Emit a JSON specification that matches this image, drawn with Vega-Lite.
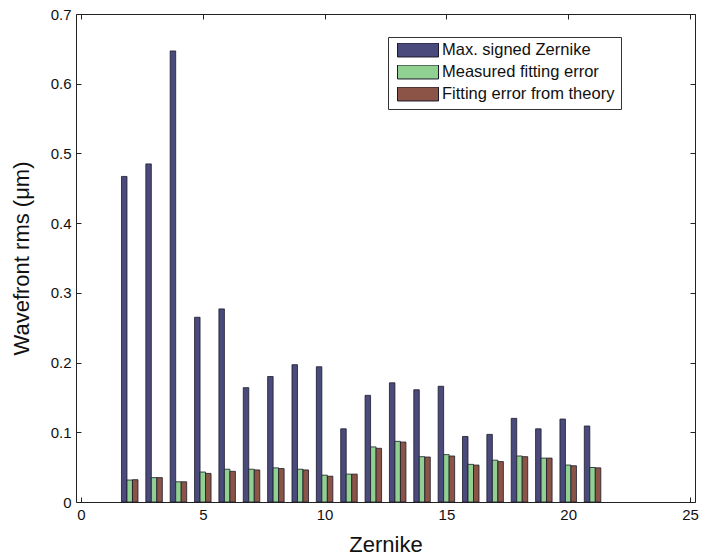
{
  "$schema": "https://vega.github.io/schema/vega-lite/v6.json",
  "width": 619,
  "height": 488,
  "autosize": {"type": "none"},
  "padding": {"left": 76, "top": 14, "right": 12, "bottom": 56},
  "background": "white",
  "config": {
    "font": "Liberation Sans",
    "view": {"stroke": "#222222", "strokeWidth": 1},
    "axis": {
      "domain": false,
      "grid": false,
      "tickColor": "#222222",
      "tickSize": -5,
      "labelFont": "Liberation Sans",
      "labelFontSize": 15,
      "labelColor": "#111111",
      "titleFont": "Liberation Sans",
      "titleFontSize": 22,
      "titleFontWeight": "normal",
      "titleColor": "#111111"
    },
    "legend": {
      "labelFont": "Liberation Sans",
      "labelFontSize": 16.5,
      "labelColor": "#111111",
      "labelLimit": 400
    }
  },
  "data": {
    "values": [
      {"z": 2, "series": "Max. signed Zernike", "value": 0.467},
      {"z": 3, "series": "Max. signed Zernike", "value": 0.485},
      {"z": 4, "series": "Max. signed Zernike", "value": 0.647},
      {"z": 5, "series": "Max. signed Zernike", "value": 0.265},
      {"z": 6, "series": "Max. signed Zernike", "value": 0.277},
      {"z": 7, "series": "Max. signed Zernike", "value": 0.164},
      {"z": 8, "series": "Max. signed Zernike", "value": 0.180},
      {"z": 9, "series": "Max. signed Zernike", "value": 0.197},
      {"z": 10, "series": "Max. signed Zernike", "value": 0.194},
      {"z": 11, "series": "Max. signed Zernike", "value": 0.105},
      {"z": 12, "series": "Max. signed Zernike", "value": 0.153},
      {"z": 13, "series": "Max. signed Zernike", "value": 0.171},
      {"z": 14, "series": "Max. signed Zernike", "value": 0.161},
      {"z": 15, "series": "Max. signed Zernike", "value": 0.166},
      {"z": 16, "series": "Max. signed Zernike", "value": 0.094},
      {"z": 17, "series": "Max. signed Zernike", "value": 0.097},
      {"z": 18, "series": "Max. signed Zernike", "value": 0.120},
      {"z": 19, "series": "Max. signed Zernike", "value": 0.105},
      {"z": 20, "series": "Max. signed Zernike", "value": 0.119},
      {"z": 21, "series": "Max. signed Zernike", "value": 0.109},
      {"z": 2, "series": "Measured fitting error", "value": 0.0315},
      {"z": 3, "series": "Measured fitting error", "value": 0.035},
      {"z": 4, "series": "Measured fitting error", "value": 0.029},
      {"z": 5, "series": "Measured fitting error", "value": 0.043},
      {"z": 6, "series": "Measured fitting error", "value": 0.047},
      {"z": 7, "series": "Measured fitting error", "value": 0.047},
      {"z": 8, "series": "Measured fitting error", "value": 0.049},
      {"z": 9, "series": "Measured fitting error", "value": 0.047},
      {"z": 10, "series": "Measured fitting error", "value": 0.0385},
      {"z": 11, "series": "Measured fitting error", "value": 0.040},
      {"z": 12, "series": "Measured fitting error", "value": 0.079},
      {"z": 13, "series": "Measured fitting error", "value": 0.087},
      {"z": 14, "series": "Measured fitting error", "value": 0.065},
      {"z": 15, "series": "Measured fitting error", "value": 0.068},
      {"z": 16, "series": "Measured fitting error", "value": 0.054},
      {"z": 17, "series": "Measured fitting error", "value": 0.060},
      {"z": 18, "series": "Measured fitting error", "value": 0.066},
      {"z": 19, "series": "Measured fitting error", "value": 0.063},
      {"z": 20, "series": "Measured fitting error", "value": 0.053},
      {"z": 21, "series": "Measured fitting error", "value": 0.0495},
      {"z": 2, "series": "Fitting error from theory", "value": 0.032},
      {"z": 3, "series": "Fitting error from theory", "value": 0.035},
      {"z": 4, "series": "Fitting error from theory", "value": 0.029},
      {"z": 5, "series": "Fitting error from theory", "value": 0.041},
      {"z": 6, "series": "Fitting error from theory", "value": 0.044},
      {"z": 7, "series": "Fitting error from theory", "value": 0.046},
      {"z": 8, "series": "Fitting error from theory", "value": 0.048},
      {"z": 9, "series": "Fitting error from theory", "value": 0.046},
      {"z": 10, "series": "Fitting error from theory", "value": 0.037},
      {"z": 11, "series": "Fitting error from theory", "value": 0.040},
      {"z": 12, "series": "Fitting error from theory", "value": 0.077},
      {"z": 13, "series": "Fitting error from theory", "value": 0.086},
      {"z": 14, "series": "Fitting error from theory", "value": 0.0645},
      {"z": 15, "series": "Fitting error from theory", "value": 0.066},
      {"z": 16, "series": "Fitting error from theory", "value": 0.053},
      {"z": 17, "series": "Fitting error from theory", "value": 0.058},
      {"z": 18, "series": "Fitting error from theory", "value": 0.065},
      {"z": 19, "series": "Fitting error from theory", "value": 0.063},
      {"z": 20, "series": "Fitting error from theory", "value": 0.052},
      {"z": 21, "series": "Fitting error from theory", "value": 0.049}
    ]
  },
  "resolve": {"axis": {"x": "independent", "y": "independent"}},
  "layer": [
    {
      "transform": [{"filter": "datum.series === 'Max. signed Zernike'"}],
      "mark": {"type": "bar", "width": 5.5, "xOffset": -5.5, "stroke": "#1a1a2a", "strokeWidth": 0.8},
      "encoding": {
        "x": {"field": "z", "type": "quantitative", "scale": {"domain": [0, 25], "nice": false},
          "axis": {"orient": "bottom", "values": [0, 5, 10, 15, 20, 25], "title": "Zernike", "labelPadding": 10, "titlePadding": 12}},
        "y": {"field": "value", "type": "quantitative", "scale": {"domain": [0, 0.7], "nice": false},
          "axis": {"orient": "left", "values": [0, 0.1, 0.2, 0.3, 0.4, 0.5, 0.6, 0.7], "format": ".1~f", "title": "Wavefront rms (μm)", "labelPadding": 10, "titlePadding": 17}},
        "color": {"field": "series", "type": "nominal",
          "scale": {"domain": ["Max. signed Zernike", "Measured fitting error", "Fitting error from theory"], "range": ["#4b4a7c", "#90d090", "#8c5446"]},
          "legend": {"title": null, "orient": "none", "legendX": 312, "legendY": 23,
            "symbolType": "M-1,-0.34L1,-0.34L1,0.34L-1,0.34Z", "symbolSize": 1681,
            "symbolStrokeColor": "#222222", "symbolStrokeWidth": 1, "symbolOffset": 3,
            "clipHeight": 14, "labelLimit": 400,
            "strokeColor": "#333333", "fillColor": "white", "padding": 6, "rowPadding": 5, "labelOffset": 3}}
      }
    },
    {
      "transform": [{"filter": "datum.series === 'Measured fitting error'"}],
      "mark": {"type": "bar", "width": 5.5, "xOffset": 0, "stroke": "#1a1a2a", "strokeWidth": 0.8},
      "encoding": {
        "x": {"field": "z", "type": "quantitative", "axis": {"orient": "top", "values": [0, 5, 10, 15, 20, 25], "labels": false, "title": null}},
        "y": {"field": "value", "type": "quantitative", "axis": {"orient": "right", "values": [0, 0.1, 0.2, 0.3, 0.4, 0.5, 0.6, 0.7], "labels": false, "title": null}},
        "color": {"field": "series", "type": "nominal"}
      }
    },
    {
      "transform": [{"filter": "datum.series === 'Fitting error from theory'"}],
      "mark": {"type": "bar", "width": 5.5, "xOffset": 5.5, "stroke": "#1a1a2a", "strokeWidth": 0.8},
      "encoding": {
        "x": {"field": "z", "type": "quantitative", "axis": null},
        "y": {"field": "value", "type": "quantitative", "axis": null},
        "color": {"field": "series", "type": "nominal"}
      }
    }
  ]
}
